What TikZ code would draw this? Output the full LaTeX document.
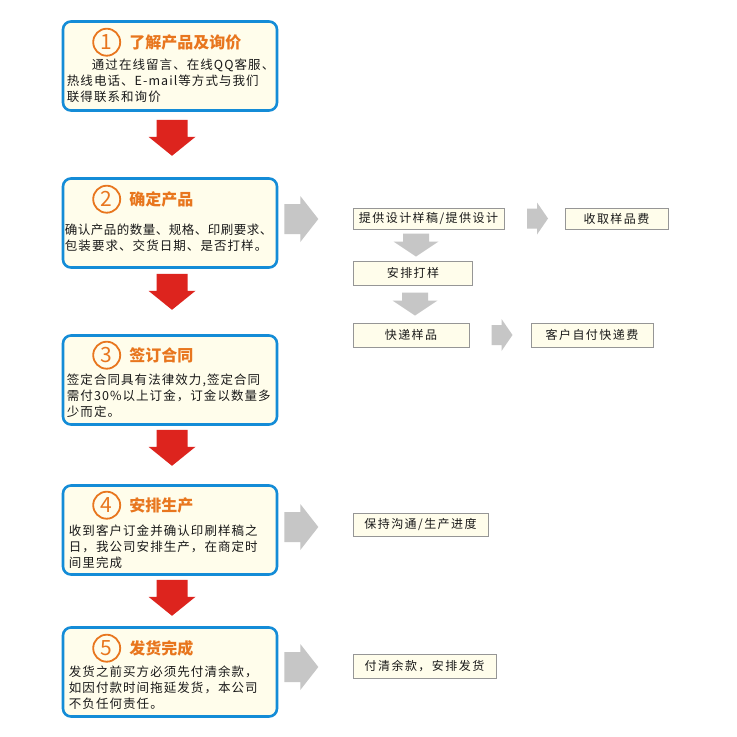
\documentclass[tikz,border=0pt]{standalone}
\usepackage{fontspec}
\setmainfont{Noto Sans CJK SC}
\usetikzlibrary{positioning, calc}
\definecolor{stepblue}{RGB}{20,140,215}
\definecolor{stepcream}{RGB}{255,253,235}
\definecolor{steporange}{RGB}{232,118,30}
\definecolor{arrowred}{RGB}{221,36,30}
\definecolor{arrowgray}{RGB}{198,198,198}
\definecolor{sideline}{RGB}{150,150,150}
\definecolor{textdark}{RGB}{25,25,25}
\tikzset{
  stepbox/.style={rectangle, draw=stepblue, fill=stepcream, line width=2.6pt, rounded corners=8pt, minimum width=214pt, minimum height=89pt, inner sep=0pt},
  numcircle/.style={circle, draw=steporange, line width=1.8pt, minimum size=27pt, inner sep=0pt, text=steporange, font=\fontsize{21}{21}\selectfont},
  steptitle/.style={anchor=west, inner sep=0pt, text=steporange, font=\fontsize{16}{16}\selectfont\bfseries},
  stepbody/.style={anchor=north west, inner sep=0pt, align=left, text=textdark, font=\fontsize{12.5}{16}\selectfont\addfontfeature{LetterSpace=8.5}},
  sidebox/.style={rectangle, draw=sideline, fill=stepcream, line width=0.8pt, minimum height=23pt, inner sep=2pt, text=textdark, font=\fontsize{12}{12}\selectfont\addfontfeature{LetterSpace=12}},
  downred/.pic={\fill[arrowred] (-15.5,0) -- (15.5,0) -- (15.5,17) -- (23.5,17) -- (0,36) -- (-23.5,17) -- (-15.5,17) -- cycle;},
  bigright/.pic={\fill[arrowgray] (0,-15) -- (16,-15) -- (16,-23) -- (34,0) -- (16,23) -- (16,15) -- (0,15) -- cycle;},
  smallright/.pic={\fill[arrowgray] (-10.5,-10) -- (-0.5,-10) -- (-0.5,-16) -- (10.5,0) -- (-0.5,16) -- (-0.5,10) -- (-10.5,10) -- cycle;},
  smalldown/.pic={\fill[arrowgray] (-13,-11.5) -- (13,-11.5) -- (13,-3.5) -- (22.5,-3.5) -- (0,11.5) -- (-22.5,-3.5) -- (-13,-3.5) -- cycle;}
}

\begin{document}
\begin{tikzpicture}[x=1pt, y=-1pt]
  \useasboundingbox[fill=white] (0,0) rectangle (737,737);

  % main steps
  \node[stepbox] (s1) at (170,66) {};
  \node[stepbox] (s2) at (170,223) {};
  \node[stepbox] (s3) at (170,380) {};
  \node[stepbox] (s4) at (170,530) {};
  \node[stepbox] (s5) at (170,672) {};

  \node[numcircle] (n1) at ($(s1.north west)+(45,22)$) {1};
  \node[steptitle, right=8pt of n1] (t1) {了解产品及询价};
  \node[stepbody] (b1) at ($(s1.north west)+(5,38)$) {\hspace*{2em}通过在线留言、在线QQ客服、\\热线电话、E-mail等方式与我们\\联得联系和询价};

  \node[numcircle] (n2) at ($(s2.north west)+(45,22)$) {2};
  \node[steptitle, right=8pt of n2] (t2) {确定产品};
  \node[stepbody] (b2) at ($(s2.north west)+(3,47)$) {{\addfontfeature{LetterSpace=4}确认产品的数量、规格、印刷要求、}\\包装要求、交货日期、是否打样。};

  \node[numcircle] (n3) at ($(s3.north west)+(45,21)$) {3};
  \node[steptitle, right=8pt of n3] (t3) {签订合同};
  \node[stepbody] (b3) at ($(s3.north west)+(5,40)$) {签定合同具有法律效力,签定合同\\需付30\%以上订金，订金以数量多\\少而定。};

  \node[numcircle] (n4) at ($(s4.north west)+(45,21)$) {4};
  \node[steptitle, right=8pt of n4] (t4) {安排生产};
  \node[stepbody] (b4) at ($(s4.north west)+(7,40)$) {收到客户订金并确认印刷样稿之\\日，我公司安排生产，在商定时\\间里完成};

  \node[numcircle] (n5) at ($(s5.north west)+(45,22)$) {5};
  \node[steptitle, right=8pt of n5] (t5) {发货完成};
  \node[stepbody] (b5) at ($(s5.north west)+(7,39)$) {发货之前买方必须先付清余款，\\如因付款时间拖延发货，本公司\\不负任何责任。};

  % red arrows between steps
  \pic at ($(s1.south)+(2,8)$) {downred};
  \pic at ($(s2.south)+(2,5)$) {downred};
  \pic at ($(s3.south)+(2,4)$) {downred};
  \pic at ($(s4.south)+(2,4)$) {downred};

  % side notes
  \node[sidebox, minimum width=151pt, minimum height=21pt] (d1) at (428.5,218.5) {提供设计样稿/提供设计};
  \node[sidebox, minimum width=103pt, minimum height=21pt] (d2) at (616.5,218.5) {收取样品费};
  \node[sidebox, minimum width=119pt, minimum height=24pt] (d3) at (413,273) {安排打样};
  \node[sidebox, minimum width=116pt, minimum height=24pt] (d4) at (411,335) {快递样品};
  \node[sidebox, minimum width=122pt, minimum height=24pt] (d5) at (592,335) {客户自付快递费};
  \node[sidebox, minimum width=135pt] (d6) at (420.5,524.5) {保持沟通/生产进度};
  \node[sidebox, minimum width=143pt, minimum height=24pt] (d7) at (424.5,666) {付清余款，安排发货};

  % gray arrows
  \pic at ($(s2.east)+(6,-4)$) {bigright};
  \pic at ($(s4.east)+(6,-3)$) {bigright};
  \pic at ($(s5.east)+(6,-5)$) {bigright};
  \pic at ($(d1.east)!0.5!(d2.west)+(3,0)$) {smallright};
  \pic at ($(d1.south -| d3.north)!0.5!(d3.north)+(3,0)$) {smalldown};
  \pic at ($(d3.south)!0.5!(d4.north)+(3,0)$) {smalldown};
  \pic at ($(d4.east)!0.5!(d5.west)+(2,0)$) {smallright};
\end{tikzpicture}
\end{document}
